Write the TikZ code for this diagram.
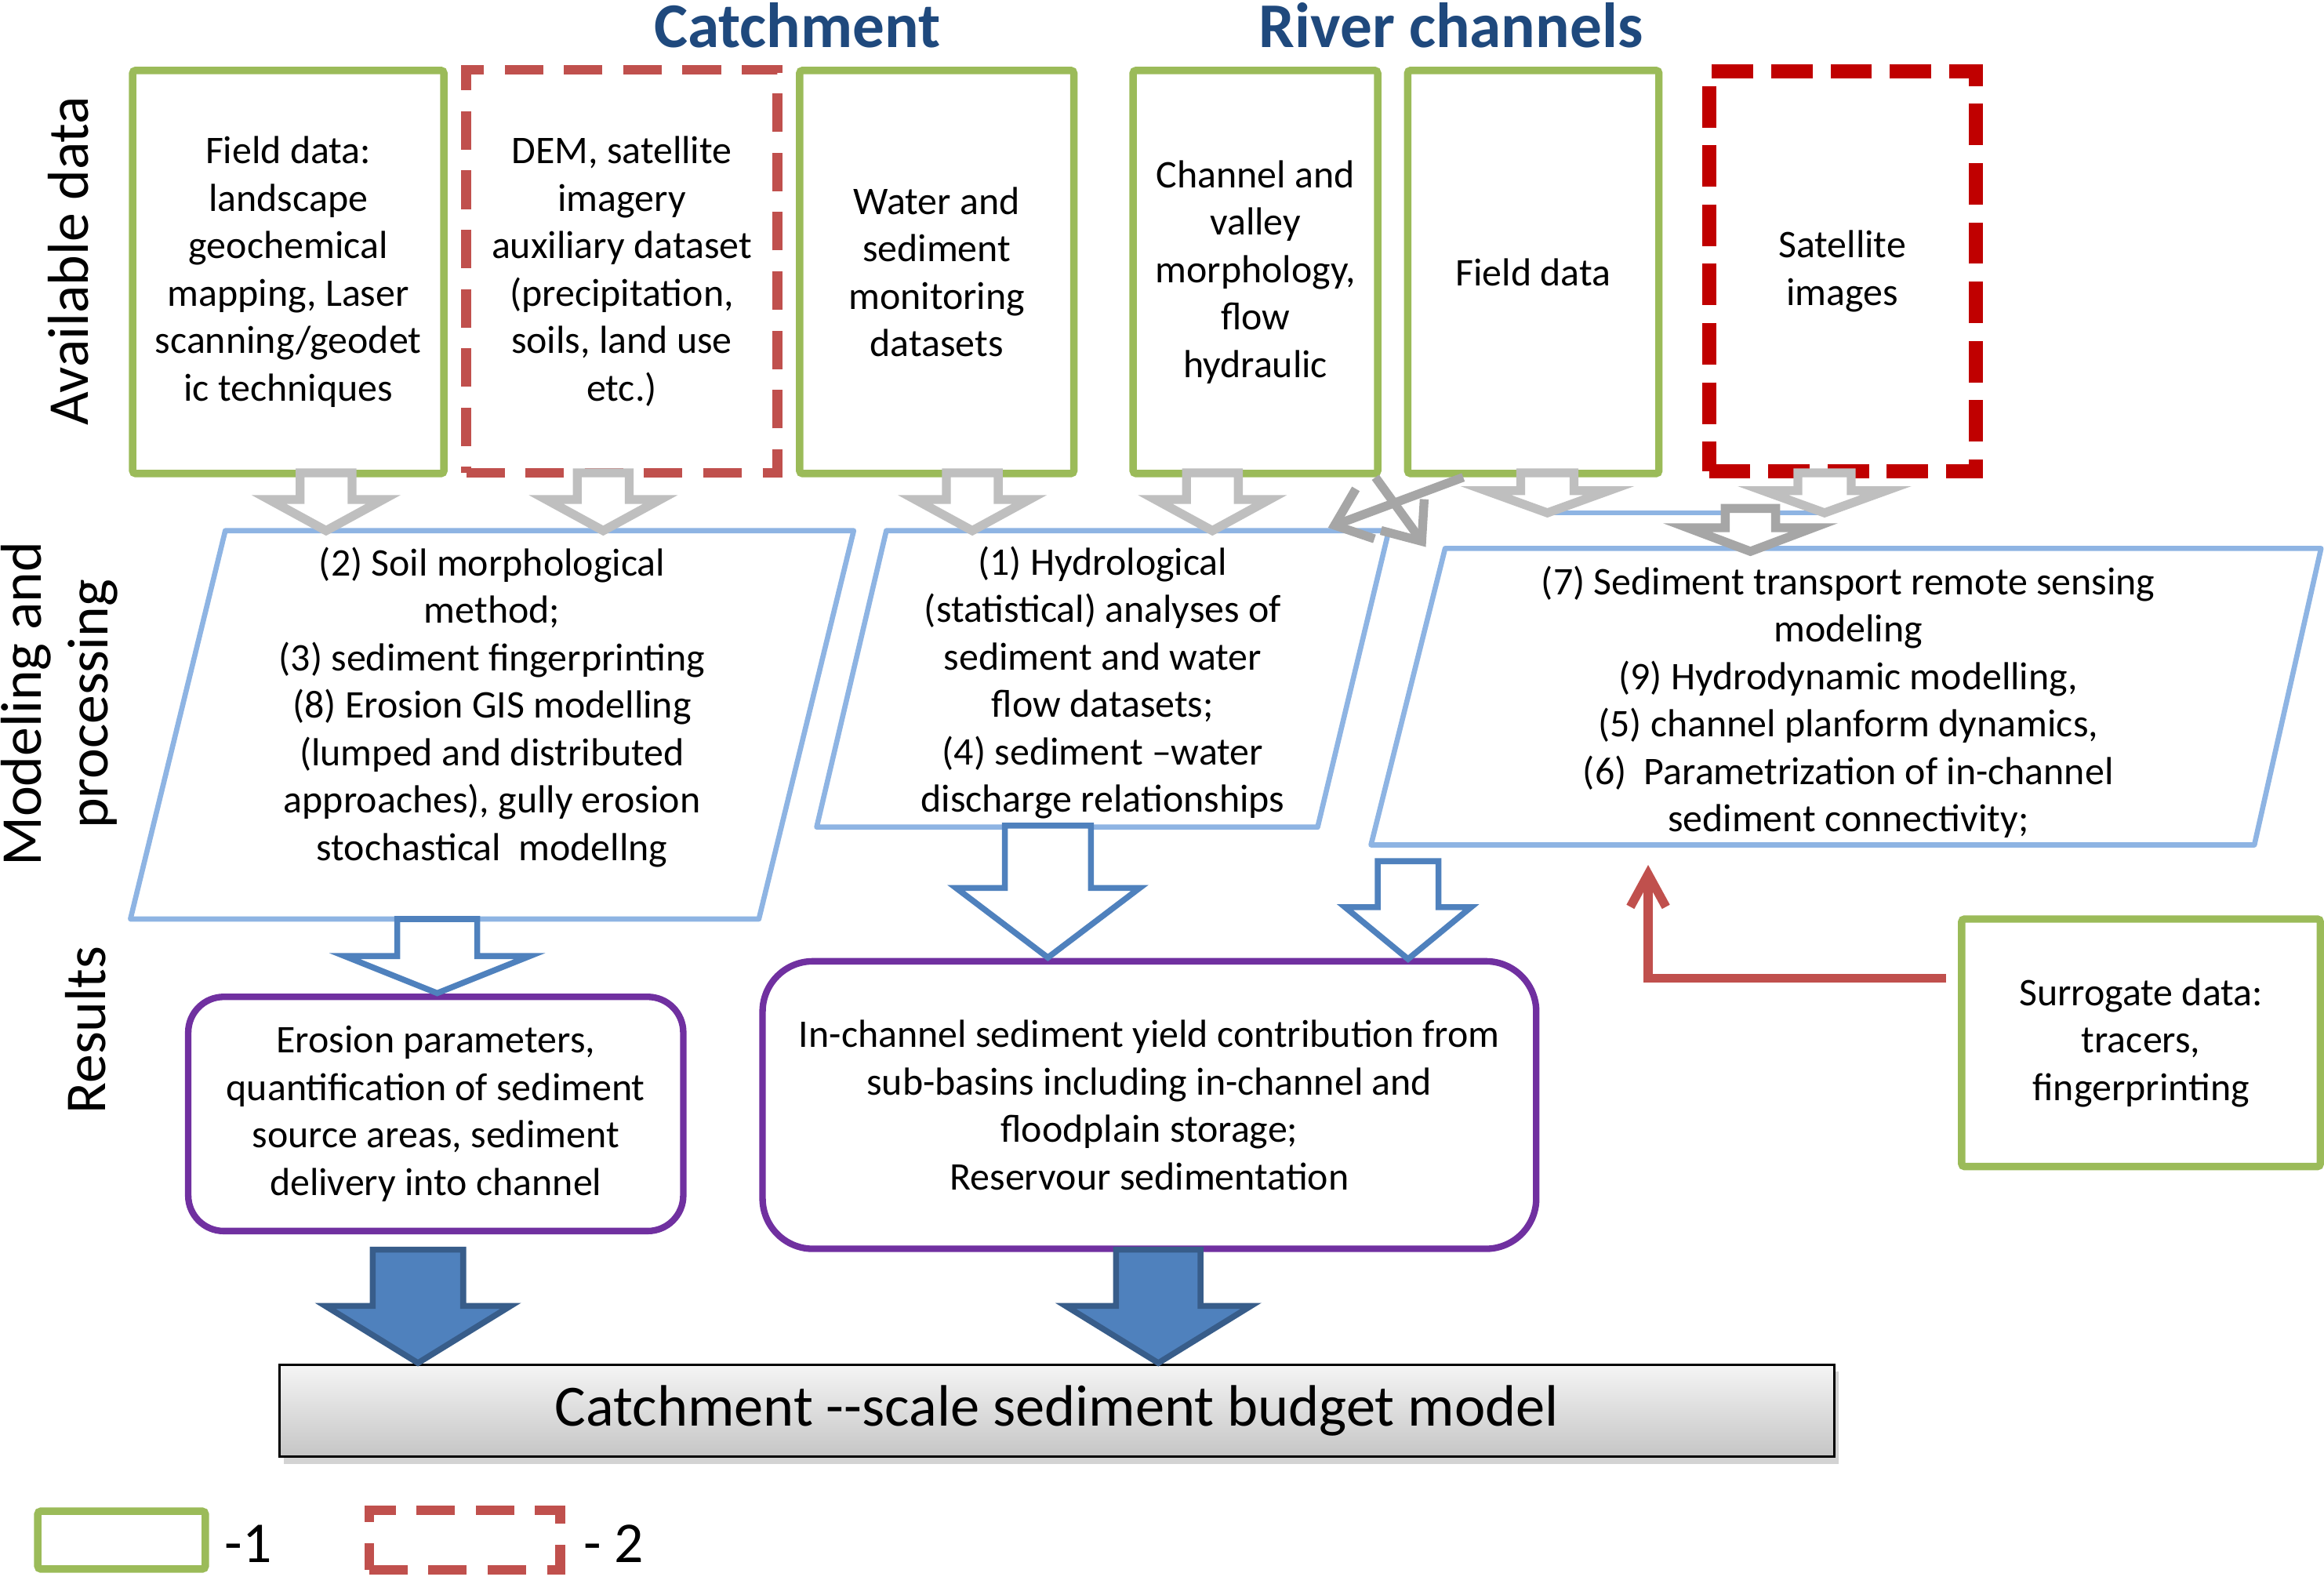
\documentclass[tikz,border=0pt]{standalone}
\usepackage{fontspec}
\setmainfont{Carlito}
\usetikzlibrary{arrows.meta,shadows}

\definecolor{boxgreen}{HTML}{9BBB59}
\definecolor{boxred}{HTML}{C0504D}
\definecolor{darkred}{HTML}{C00000}
\definecolor{paleblue}{HTML}{8EB4E3}
\definecolor{midblue}{HTML}{4F81BD}
\definecolor{deepblue}{HTML}{385D8A}
\definecolor{resultpurple}{HTML}{7030A0}
\definecolor{lightgrey}{HTML}{BFBFBF}
\definecolor{midgrey}{HTML}{A6A6A6}
\definecolor{titleblue}{HTML}{1F497D}

\tikzset{
  body/.style={font=\fontsize{13.2}{16}\selectfont, align=center},
  databox/.style={body, draw=boxgreen, line width=2.5pt, rounded corners=1pt, inner sep=0pt},
  remotebox/.style={body, draw=boxred, line width=3.25pt, dash pattern=on 13pt off 7pt, inner sep=0pt},
  satbox/.style={body, draw=darkred, line width=4.75pt, dash pattern=on 14pt off 6pt, inner sep=0pt},
  para/.style={draw=paleblue, line width=1.75pt, line join=round},
  resultbox/.style={body, draw=resultpurple, line width=2.2pt, inner sep=0pt},
  budget/.style={draw=black, line width=0.8pt, top color=gray!8, bottom color=gray!45,
    drop shadow={shadow xshift=1.5pt, shadow yshift=-2.5pt, opacity=0.35},
    font=\fontsize{19.7}{23}\selectfont, inner sep=0pt},
  headline/.style={font=\fontsize{21.5}{26}\selectfont\bfseries, text=titleblue},
  rowhead/.style={font=\fontsize{19.5}{22.5}\selectfont, rotate=90, align=center},
  legendtext/.style={font=\fontsize{19.5}{22.5}\selectfont, anchor=base},
  hollowgrey/.style={draw=lightgrey, fill=white, line width=3pt},
  hollowdark/.style={draw=midgrey, fill=white, line width=3pt},
  hollowblue/.style={draw=midblue, fill=white, line width=2pt},
  solidblue/.style={draw=deepblue, fill=midblue, line width=2pt},
  chevron/.style={draw=midgrey, line width=3pt, -{Straight Barb[length=11pt,width=18pt]}},
  feedback/.style={draw=boxred, line width=3pt, -{Straight Barb[length=11pt,width=12pt]}}
}

% block arrow pointing down: style, x, y top, y head, y tip, half shaft, half head
\newcommand{\blockdown}[7]{%
  \draw[#1] (#2-#6,#3) -- (#2+#6,#3) -- (#2+#6,#4) -- (#2+#7,#4)
    -- (#2,#5) -- (#2-#7,#4) -- (#2-#6,#4) -- cycle;}

\begin{document}
\begin{tikzpicture}[x=0.5pt,y=-0.5pt]
  \useasboundingbox (0,0) rectangle (1568,1068.6);

  % headings
  \node[headline] (catch) at (538,17) {Catchment};
  \node[headline] (river) at (979,17) {River channels};
  \node[rowhead] (avail) at (46,176) {Available data};
  \node[rowhead] (model) at (40,475) {Modeling and\\processing};
  \node[rowhead] (res) at (58,695) {Results};

  % available data
  \node[databox, minimum width=105pt, minimum height=136pt] (a1) at (194.5,183.5)
    {Field data:\\landscape\\geochemical\\mapping, Laser\\scanning/geodet\\ic techniques};
  \node[remotebox, minimum width=105pt, minimum height=136pt] (a2) at (419.5,183)
    {DEM, satellite\\imagery\\auxiliary dataset\\(precipitation,\\soils, land use\\etc.)};
  \node[databox, minimum width=92.5pt, minimum height=136pt] (a3) at (632,183.5)
    {Water and\\sediment\\monitoring\\datasets};
  \node[databox, minimum width=82.5pt, minimum height=136pt] (a4) at (847,183.5)
    {Channel and\\valley\\morphology,\\flow\\hydraulic};
  \node[databox, minimum width=84.75pt, minimum height=136pt] (a5) at (1034.5,183.5)
    {Field data};
  \node[satbox, minimum width=90pt, minimum height=135pt] (a6) at (1243,183)
    {Satellite\\images};

  % modeling and processing
  \coordinate (p1nw) at (152,358);
  \coordinate (p1ne) at (576,358);
  \coordinate (p1se) at (512,620);
  \coordinate (p1sw) at (88,620);
  \coordinate (p2nw) at (598,358);
  \coordinate (p2ne) at (937,358);
  \coordinate (p2se) at (889,558);
  \coordinate (p2sw) at (551,558);
  \coordinate (p3nw) at (975,370);
  \coordinate (p3ne) at (1566,370);
  \coordinate (p3se) at (1521,570);
  \coordinate (p3sw) at (925,570);
  \draw[para] (p1nw) -- (p1ne) -- (p1se) -- (p1sw) -- cycle;
  \draw[para] (p2nw) -- (p2ne) -- (p2se) -- (p2sw) -- cycle;
  \draw[para] (p3nw) -- (p3ne) -- (p3se) -- (p3sw) -- cycle;
  \node[body] (p1) at (332,477)
    {(2) Soil morphological\\method;\\(3) sediment fingerprinting\\(8) Erosion GIS modelling\\(lumped and distributed\\approaches), gully erosion\\stochastical~ modellng};
  \node[body] (p2) at (744,460.5)
    {(1) Hydrological\\(statistical) analyses of\\sediment and water\\flow datasets;\\(4) sediment --water\\discharge relationships};
  \node[body] (p3) at (1247,473.5)
    {(7) Sediment transport remote sensing\\modeling\\(9) Hydrodynamic modelling,\\(5) channel planform dynamics,\\(6)~ Parametrization of in-channel\\sediment connectivity;};

  % results
  \node[resultbox, rounded corners=12pt, minimum width=167pt, minimum height=79pt] (r1) at (294,751.5)
    {Erosion parameters,\\quantification of sediment\\source areas, sediment\\delivery into channel};
  \node[resultbox, rounded corners=17pt, minimum width=261pt, minimum height=97pt] (r2) at (775.5,745.5)
    {In-channel sediment yield contribution from\\sub-basins including in-channel and\\floodplain storage;\\Reservour sedimentation};
  \node[databox, minimum width=121pt, minimum height=83.5pt] (s) at (1444.5,703.5)
    {Surrogate data:\\tracers,\\fingerprinting};

  \node[budget, minimum width=524.5pt, minimum height=31pt] (b) at (713,951.5)
    {Catchment -{}-scale sediment budget model};

  % legend
  \node[databox, minimum width=56.5pt, minimum height=19.5pt] (l1) at (82,1039) {};
  \node[remotebox, minimum width=64.5pt, minimum height=20pt] (l2) at (313.5,1039) {};
  \node[legendtext] (l1t) at (167.5,1054) {-1};
  \node[legendtext] (l2t) at (414,1054) {- 2};

  % connectors
  \coordinate (a5tip) at (1043,346);
  \coordinate (a6tip) at (1232,346);
  \draw[para] (a5tip) -- (a6tip);
  \coordinate (x1end) at (896,356);
  \coordinate (x2end) at (962,369);
  \draw[chevron] ([xshift=20pt]a5.south west) -- (x1end);
  \draw[chevron] ([xshift=-2pt]a4.south east) -- (x2end);
  \coordinate (sfoot) at (1313,660);
  \coordinate (p3foot) at (1112,583.5);
  \draw[feedback] (sfoot) -| (p3foot);

  \begin{scope}
    \blockdown{hollowgrey}{220}{319}{337}{358}{17.5}{38.5}
    \blockdown{hollowgrey}{407}{319}{337}{358}{17.5}{38.5}
    \blockdown{hollowgrey}{656}{319}{337}{358}{17.5}{38.5}
    \blockdown{hollowgrey}{818}{319}{337}{358}{17.5}{38.5}
    \blockdown{hollowgrey}{1044}{319}{331}{346}{18}{41.5}
    \blockdown{hollowgrey}{1231}{319}{331}{346}{18}{41.5}
    \blockdown{hollowdark}{1181}{343}{356}{372}{17}{42.5}
    \blockdown{hollowblue}{295}{620}{645}{670}{27}{62.5}
    \blockdown{hollowblue}{707}{557}{599}{646}{29}{62}
    \blockdown{hollowblue}{950}{581}{612}{647}{20.5}{42.5}
    \blockdown{solidblue}{282}{843}{881}{919.5}{30.5}{62.5}
    \blockdown{solidblue}{781.5}{843}{881}{919.5}{28.5}{62.5}
  \end{scope}
\end{tikzpicture}
\end{document}
